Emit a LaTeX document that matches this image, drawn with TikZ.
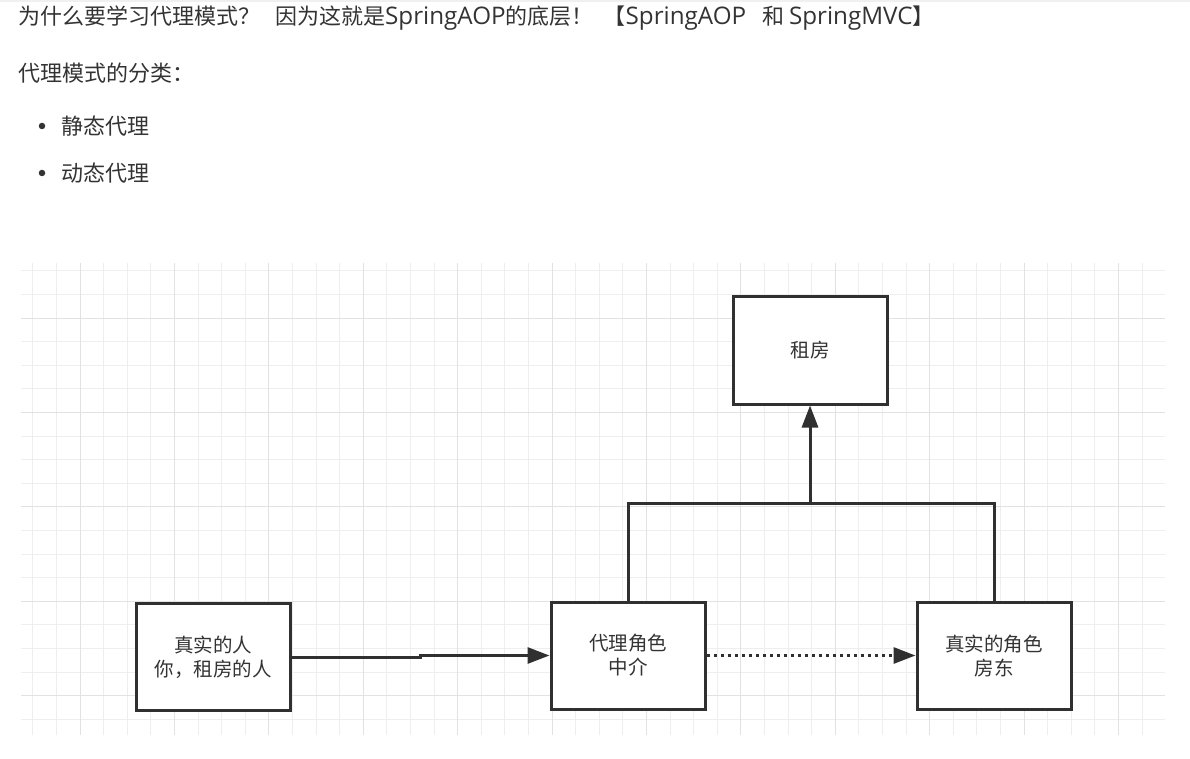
\documentclass[tikz,border=0pt]{standalone}
\usepackage{fontspec}
\setmainfont{Noto Sans CJK SC}
\newfontfamily\latinfont{Open Sans}[Scale=1.1]
\usepackage{xcolor}
\usetikzlibrary{positioning}
\usetikzlibrary{arrows.meta}

\definecolor{inkgray}{HTML}{333333}
\definecolor{boxline}{HTML}{303030}
\definecolor{gridminor}{HTML}{EEEEEE}
\definecolor{gridmajor}{HTML}{E2E2E2}

\begin{document}
\begin{tikzpicture}[x=1pt,y=-1pt,
      heading/.style={anchor=west,inner sep=0pt,text=inkgray,
        font=\fontsize{22}{26}\selectfont},
      role box/.style={draw=boxline,line width=3pt,fill=white,
        minimum width=154pt,minimum height=107pt,align=center,
        text=inkgray,font=\fontsize{19.5}{24}\selectfont},
      wire/.style={draw=boxline,line width=3pt},
      link/.style={wire,-{Triangle[length=22pt,width=16pt]}},
      dotted link/.style={dash pattern=on 3pt off 4pt}
      ]
      \useasboundingbox (0,0) rectangle (1190,759);
      \fill[gray!12] (0,0) rectangle (1190,2);

      % grid behind the diagram
      \foreach \k in {-2,...,45}
        \draw[gridminor,line width=1pt] (80+23.6*\k,263) -- (80+23.6*\k,735);
      \foreach \k in {-2,...,17}
        \draw[gridminor,line width=1pt] (21,318+23.6*\k) -- (1165,318+23.6*\k);
      \foreach \k in {0,...,11}
        \draw[gridmajor,line width=1pt] (80+94.4*\k,263) -- (80+94.4*\k,735);
      \foreach \k in {0,...,4}
        \draw[gridmajor,line width=1pt] (21,318+94.4*\k) -- (1165,318+94.4*\k);

      % text above
      \node[heading] (why) at (18,18) {为什么要学习代理模式？\hspace{15pt}因为这就是{\latinfont SpringAOP}的底层！\hspace{10pt}【{\latinfont SpringAOP}\hspace{16pt}和 {\latinfont SpringMVC}】};
      \node[heading] (kinds) at (18,73) {代理模式的分类：};
      \node[circle,fill=inkgray,inner sep=0pt,minimum size=6.5pt] (dot1) at (42,126) {};
      \node[heading,right=16pt of dot1] (static) {静态代理};
      \node[circle,fill=inkgray,inner sep=0pt,minimum size=6.5pt] (dot2) at (42,173) {};
      \node[heading,right=16pt of dot2] (dynamic) {动态代理};

      % roles
      \node[role box] (real) at (213,657) {真实的人\\你，租房的人};
      \node[role box,right=258pt of real,yshift=1.5pt] (agent) {代理角色\\中介};
      \node[role box,right=209pt of agent] (landlord) {真实的角色\\房东};
      \node[role box,minimum height=108pt] (rent) at (810,350) {租房};

      \coordinate (jog) at (420,0);
      \coordinate (bus) at (810,503);

      \draw[link] (real.east) -- (real.east -| jog) |- (agent.west);
      \draw[link,dotted link] (agent.east) -- (landlord.west);
      \draw[wire] (agent.north) |- (bus) -| (landlord.north);
      \draw[link] (bus) -- (rent);
    \end{tikzpicture}
\end{document}
